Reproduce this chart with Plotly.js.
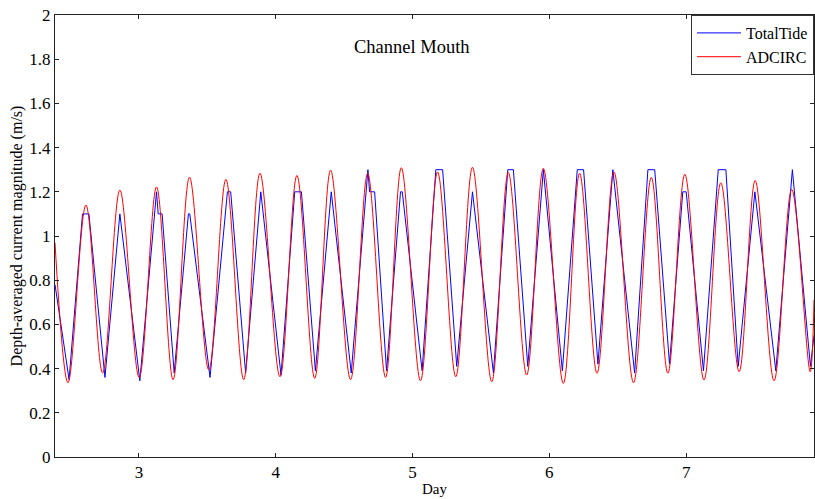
<!DOCTYPE html>
<html>
<head>
<meta charset="utf-8">
<script src="https://cdn.plot.ly/plotly-3.0.1.min.js"></script>
<style>html,body{margin:0;padding:0;background:#fff;}#chart{width:815px;height:499px;}</style>
</head>
<body>
<div id="chart"></div>
<script>
// ADCIRC (red) — peaks and troughs
var adcircDay = [2.387, 2.482, 2.613, 2.735, 2.861, 3.002, 3.129, 3.250, 3.370, 3.511, 3.636, 3.766, 3.885, 4.031, 4.155, 4.285, 4.401, 4.547, 4.672, 4.803, 4.918, 5.058, 5.183, 5.316, 5.438, 5.579, 5.700, 5.834, 5.956, 6.102, 6.221, 6.348, 6.472, 6.615, 6.745, 6.866, 6.990, 7.130, 7.253, 7.387, 7.504, 7.642, 7.771, 7.906, 7.934];
var adcircVal = [0.97, 0.336, 1.14, 0.38, 1.208, 0.36, 1.222, 0.35, 1.266, 0.394, 1.256, 0.35, 1.284, 0.363, 1.274, 0.356, 1.298, 0.35, 1.283, 0.36, 1.309, 0.345, 1.29, 0.363, 1.311, 0.341, 1.287, 0.371, 1.306, 0.333, 1.284, 0.379, 1.29, 0.336, 1.265, 0.379, 1.279, 0.348, 1.241, 0.386, 1.251, 0.345, 1.211, 0.386, 0.71];

// TotalTide (blue) — quantized series
var tideDay = [2.387, 2.490, 2.588, 2.635, 2.752, 2.861, 3.007, 3.129, 3.141, 3.170, 3.258, 3.362, 3.372, 3.520, 3.647, 3.671, 3.780, 3.891, 4.039, 4.139, 4.188, 4.290, 4.406, 4.552, 4.674, 4.686, 4.723, 4.810, 4.912, 4.925, 5.070, 5.170, 5.220, 5.323, 5.438, 5.591, 5.696, 5.737, 5.842, 5.956, 6.095, 6.204, 6.250, 6.355, 6.464, 6.623, 6.720, 6.770, 6.878, 6.975, 7.000, 7.126, 7.234, 7.290, 7.380, 7.502, 7.655, 7.776, 7.908, 7.934];
var tideVal = [0.78, 0.35, 1.1, 1.1, 0.36, 1.1, 0.345, 1.2, 1.1, 1.1, 0.38, 1.1, 1.1, 0.36, 1.2, 1.2, 0.38, 1.2, 0.37, 1.2, 1.2, 0.39, 1.2, 0.38, 1.3, 1.2, 1.2, 0.39, 1.2, 1.2, 0.39, 1.3, 1.3, 0.41, 1.2, 0.38, 1.3, 1.3, 0.41, 1.3, 0.39, 1.3, 1.3, 0.42, 1.3, 0.38, 1.3, 1.3, 0.42, 1.2, 1.2, 0.39, 1.3, 1.3, 0.41, 1.2, 0.39, 1.3, 0.41, 0.55];

var xTicks = [3, 4, 5, 6, 7];
var yTicks = [0, 0.2, 0.4, 0.6, 0.8, 1, 1.2, 1.4, 1.6, 1.8, 2];
var yTickText = ['0', '0.2', '0.4', '0.6', '0.8', '1', '1.2', '1.4', '1.6', '1.8', '2'];

var FONT = 'Liberation Serif, Times New Roman, serif';

var traces = [
  {x: tideDay, y: tideVal, name: 'TotalTide', type: 'scatter', mode: 'lines',
   line: {color: '#0000ff', width: 1}},
  {x: adcircDay, y: adcircVal, name: 'ADCIRC', type: 'scatter', mode: 'lines',
   line: {color: '#ff0000', width: 1, shape: 'spline', smoothing: 1}}
];

var layout = {
  width: 815, height: 499,
  margin: {l: 55, r: 1, t: 15, b: 42},
  paper_bgcolor: '#fff', plot_bgcolor: '#fff',
  font: {family: FONT, size: 15, color: '#000'},
  showlegend: true,
  legend: {x: 1, xanchor: 'right', y: 1, yanchor: 'top', bgcolor: '#fff',
           bordercolor: '#333', borderwidth: 1, font: {family: FONT, size: 16},
           tracegroupgap: 0, itemwidth: 44},
  xaxis: {
    showline: true, linecolor: '#222', linewidth: 1, mirror: 'ticks',
    ticks: 'inside', ticklen: 4, tickcolor: '#222', showgrid: false, zeroline: false,
    tickfont: {family: FONT, size: 17, color: '#000'},
    range: [2.387, 7.934], tickvals: xTicks, ticktext: xTicks.map(String),
    title: {text: 'Day', font: {family: FONT, size: 15}, standoff: 2}
  },
  yaxis: {
    showline: true, linecolor: '#222', linewidth: 1, mirror: 'ticks',
    ticks: 'inside', ticklen: 4, tickcolor: '#222', showgrid: false, zeroline: false,
    tickfont: {family: FONT, size: 17, color: '#000'},
    range: [0, 2], tickvals: yTicks, ticktext: yTickText,
    title: {text: 'Depth-averaged current magnitude (m/s)', font: {family: FONT, size: 16}, standoff: 2}
  },
  annotations: [{
    text: 'Channel Mouth', xref: 'paper', yref: 'paper', x: 0.471, y: 0.928,
    xanchor: 'center', yanchor: 'middle',
    showarrow: false, font: {family: FONT, size: 18.5, color: '#000'}
  }]
};

Plotly.newPlot('chart', traces, layout, {displayModeBar: false, staticPlot: true});
</script>
</body>
</html>
